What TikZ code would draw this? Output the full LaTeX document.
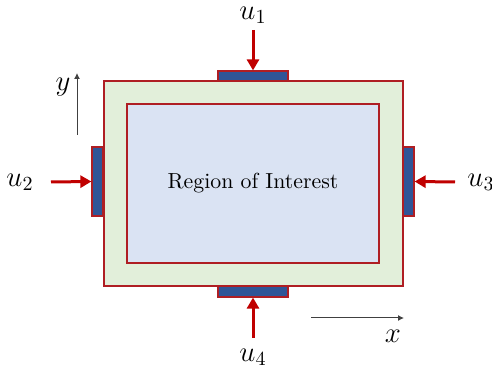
\documentclass[tikz,border=0pt]{standalone}
\usepackage{amsmath}
\usepackage{tikz}
\usetikzlibrary{arrows.meta, positioning, calc}

\definecolor{borde}{RGB}{175,30,35}
\definecolor{verdeclaro}{RGB}{226,239,218}
\definecolor{azulclaro}{RGB}{218,227,243}
\definecolor{azulact}{RGB}{47,85,151}
\definecolor{rojoact}{RGB}{192,0,0}

\begin{document}
\begin{tikzpicture}[
		x=0.5pt, y=-0.5pt,
		font=\normalsize,
		marco/.style={
			rectangle,
			draw=borde,
			line width=0.6pt,
			fill=verdeclaro,
			inner sep=0pt
		},
		region/.style={
			rectangle,
			draw=borde,
			line width=0.6pt,
			fill=azulclaro,
			inner sep=0pt
		},
		actuador/.style={
			rectangle,
			draw=borde,
			line width=0.6pt,
			fill=azulact,
			inner sep=0pt
		},
		etiqueta/.style={
			font=\Large,
			inner sep=0.5pt
		},
		fl/.style={
			draw=rojoact,
			line width=1.5pt,
			-{Triangle[length=5.5pt, width=6pt]}
		},
		eje/.style={
			draw=black!75,
			line width=0.5pt,
			-{Latex[length=3pt, width=3pt]}
		}
		]
		
		\useasboundingbox (0,0) rectangle (492,378);
		
		% Placa y region
		\node[marco, minimum width=149.5pt, minimum height=102.5pt] (placa) at (253.5,183.5) {};
		
		\node[region, minimum width=126pt, minimum height=79.5pt,
		font=\fontsize{10.9}{13}\selectfont] (roi) at (253,183.5)
		{Region of Interest};
		
		% Actuadores
		\node[actuador, minimum width=35pt, minimum height=5pt] (act1) at (253,76) {};
		\node[actuador, minimum width=5.5pt, minimum height=34.5pt] (act2) at (97.5,181.5) {};
		\node[actuador, minimum width=5.5pt, minimum height=34.5pt] (act3) at (408.5,181.5) {};
		\node[actuador, minimum width=35pt, minimum height=5.5pt] (act4) at (253,291.5) {};
		
		% Entradas
		\node[etiqueta] (u1) at (253,15) {$u_1$};
		\node[etiqueta] (u2) at (20,182) {$u_2$};
		\node[etiqueta] (u3) at (481,182) {$u_3$};
		\node[etiqueta] (u4) at (253,357) {$u_4$};
		
		\coordinate (s1) at (253,30);
		\coordinate (s2) at (51,182);
		\coordinate (s3) at (455,182);
		\coordinate (s4) at (253,338);
		
		\draw[fl] (s1) -- (act1.north);
		\draw[fl] (s2) -- (act2.west);
		\draw[fl] (s3) -- (act3.east);
		\draw[fl] (s4) -- (act4.south);
		
		% Ejes
		\coordinate (y0) at (77,135);
		\coordinate (y1) at (77,73);
		\coordinate (x0) at (311,318);
		\coordinate (x1) at (404,318);
		
		\draw[eje] (y0) -- (y1);
		\draw[eje] (x0) -- (x1);
		
		\node[etiqueta] (ly) at (63,87) {$y$};
		\node[etiqueta] (lx) at (393,336) {$x$};
		
	\end{tikzpicture}
\end{document}
